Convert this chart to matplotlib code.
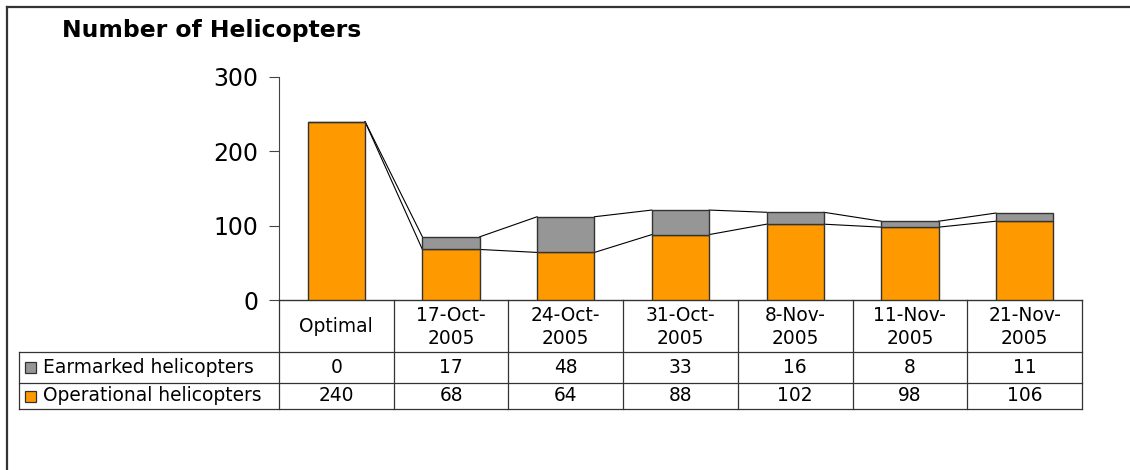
import matplotlib
matplotlib.use("Agg")
import matplotlib.pyplot as plt
from matplotlib.patches import Rectangle
from matplotlib.lines import Line2D

categories = ["Optimal", "17-Oct-\n2005", "24-Oct-\n2005", "31-Oct-\n2005",
              "8-Nov-\n2005", "11-Nov-\n2005", "21-Nov-\n2005"]
operational = [240, 68, 64, 88, 102, 98, 106]
earmarked = [0, 17, 48, 33, 16, 8, 11]
series_names = ["Earmarked helicopters", "Operational helicopters"]
yticks = [0, 100, 200, 300]
title = "Number of Helicopters"

ORANGE = "#FF9900"
GRAY = "#969696"
EDGE = "#333333"

plt.rcParams['font.family'] = ['DejaVu Sans']

W, H = 1130, 470
fig = plt.figure(figsize=(W / 100, H / 100), dpi=100)

def fx(px):
    return px / W

def fy(py):
    return 1 - py / H

# frame (top and left visible)
fig.add_artist(Line2D([fx(7), 1.0], [fy(7), fy(7)], color="#333333", lw=1.6))
fig.add_artist(Line2D([fx(7), fx(7)], [fy(7), 0.0], color="#333333", lw=1.6))

fig.text(fx(62), fy(31), title, fontsize=16.9, fontweight="bold", va="center", ha="left")

AX_L, AX_R, AX_T, AX_B = 279, 1082, 77, 300
ax = fig.add_axes([fx(AX_L), fy(AX_B), fx(AX_R) - fx(AX_L), fy(AX_T) - fy(AX_B)])
n = len(categories)
x = list(range(n))
bw = 0.5
ax.bar(x, operational, width=bw, color=ORANGE, edgecolor=EDGE, linewidth=1.0, zorder=3)
ax.bar(x, earmarked, width=bw, bottom=operational, color=GRAY, edgecolor=EDGE, linewidth=1.0, zorder=3)

tops1 = operational
tops2 = [o + e for o, e in zip(operational, earmarked)]
for i in range(n - 1):
    for tops in (tops1, tops2):
        ax.plot([i + bw / 2, i + 1 - bw / 2], [tops[i], tops[i + 1]], color="black", lw=0.8, zorder=2)

ax.set_xlim(-0.5, n - 0.5)
ax.set_ylim(0, 300)
ax.set_yticks(yticks)
ax.tick_params(axis="y", length=7, width=0.8, color="#444444", pad=8, labelsize=17)
ax.set_xticks([])
for s in ("top", "right"):
    ax.spines[s].set_visible(False)
ax.spines["left"].set_color("#444444")
ax.spines["bottom"].set_color("#333333")
ax.spines["left"].set_linewidth(0.8)
ax.spines["bottom"].set_linewidth(1.0)

# data table
T_L, T_B = 19, 409
catw = (AX_R - AX_L) / n
xleft = -0.5 - (AX_L - T_L) / catw
tax = fig.add_axes([fx(T_L), fy(T_B), fx(AX_R) - fx(T_L), fy(AX_B) - fy(T_B)])
tax.set_xlim(xleft, n - 0.5)
tax.set_ylim(T_B - AX_B, 0)
tax.axis("off")
hdr = 52
r1 = 82.5
rb = T_B - AX_B
lc = "#333333"
for k in range(n + 1):
    tax.plot([-0.5 + k, -0.5 + k], [0, rb], color=lc, lw=0.9, clip_on=False)
tax.plot([xleft, xleft], [hdr, rb], color=lc, lw=0.9, clip_on=False)
for yy in (hdr, r1, rb):
    tax.plot([xleft, n - 0.5], [yy, yy], color=lc, lw=0.9, clip_on=False)

fs = 13.4
for i, c in enumerate(categories):
    tax.text(i, hdr / 2 + 1, c, ha="center", va="center", fontsize=fs, linespacing=1.25)
rows = [earmarked, operational]
row_y = [(hdr + r1) / 2, (r1 + rb) / 2]
colors = [GRAY, ORANGE]
for name, vals, yy, col in zip(series_names, rows, row_y, colors):
    tax.add_patch(Rectangle((xleft + 6 / catw, yy - 5), 11 / catw, 11, facecolor=col,
                            edgecolor=EDGE, lw=0.9, clip_on=False))
    tax.text(xleft + 24 / catw, yy, name, ha="left", va="center", fontsize=fs)
    for i, v in enumerate(vals):
        tax.text(i, yy, str(v), ha="center", va="center", fontsize=fs)

fig.savefig("out.png", dpi=100)
